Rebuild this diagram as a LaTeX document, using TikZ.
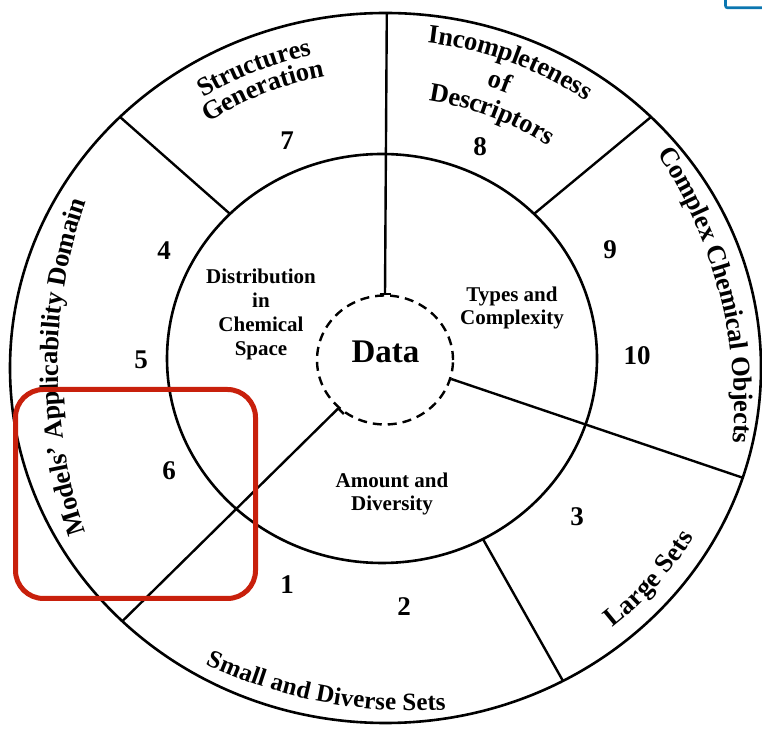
\documentclass[tikz,border=0pt]{standalone}
\usepackage{fontspec}
\setmainfont{Liberation Serif}
\usetikzlibrary{calc,shapes.geometric,decorations.text}
\definecolor{focusred}{RGB}{200,32,12}
\definecolor{markblue}{RGB}{10,118,176}
\newcommand\ringfont{\fontsize{26.5}{26.5}\selectfont\bfseries}
\newcommand\ringfontsmall{\fontsize{25}{25}\selectfont\bfseries}

\begin{document}
\begin{tikzpicture}[x=1pt,y=1pt,
  ring/.style={line width=2.6pt},
  divider/.style={line width=2.4pt},
  datacore/.style={ellipse, draw, dash pattern=on 9pt off 6pt, line width=2.4pt,
    minimum width=136pt, minimum height=129pt, inner sep=0pt},
  datatext/.style={font=\fontsize{33}{33}\selectfont\bfseries, inner sep=0pt, anchor=base},
  innerlbl/.style={font=\fontsize{21}{24}\selectfont\bfseries, align=center, inner sep=0pt, anchor=north},
  num/.style={font=\fontsize{27}{27}\selectfont\bfseries, inner sep=0pt},
  arclabel/.style={decorate, decoration={text along path, text align=center, raise=-7pt, text={|\ringfont|#1}}},
  arclabelsmall/.style={decorate, decoration={text along path, text align=center, raise=-7pt, text={|\ringfontsmall|#1}}},
  focusbox/.style={draw=focusred, line width=5pt, rounded corners=28pt, inner sep=0pt},
]
\useasboundingbox[fill=white] (0,0) rectangle (762,730);

% centres of the two rings
\coordinate (O) at (385.5,362);
\coordinate (I) at (382,371.5);

% rings
\draw[ring] (O) ellipse [x radius=375.5, y radius=355];
\draw[ring] (I) ellipse [x radius=215, y radius=204.5];

% core
\node[datacore] (data) at (385,370) {};
\node[datatext] (datalbl) at (385.5,367) {Data};

% end points on the rings
\coordinate (oTop) at ($(O)+(89.8:375.5 and 355)$);
\coordinate (oE)   at ($(O)+(-18:375.5 and 355)$);
\coordinate (oSW)  at ($(O)+(225.5:375.5 and 355)$);
\coordinate (iNW)  at ($(I)+(135:215 and 204.5)$);
\coordinate (oNW)  at ($(O)+(135:375.5 and 355)$);
\coordinate (iNE)  at ($(I)+(45:215 and 204.5)$);
\coordinate (oNE)  at ($(O)+(45:375.5 and 355)$);
\coordinate (iSE)  at ($(I)+(-62:215 and 204.5)$);
\coordinate (oSE)  at ($(O)+(-61.8:375.5 and 355)$);

% spokes from the core
\draw[divider] (data.90) -- (oTop);
\draw[divider] ($(data.90)+(-5.5,0)$) -- ($(data.90)+(5.5,0)$);
\draw[divider] (data.-16) -- (oE);
\draw[divider] (data.226) -- (oSW);
\draw[divider] (data.226) -- ++(-45:8);

% dividers of the outer ring
\draw[divider] (iNW) -- (oNW);
\draw[divider] (iNE) -- (oNE);
\draw[divider] (iSE) -- (oSE);

% inner sectors
\node[innerlbl] (dist) at (261,461.3) {Distribution\\in\\Chemical\\Space};
\node[innerlbl, font=\fontsize{21}{23}\selectfont\bfseries] (types) at (512,443.3) {Types and\\Complexity};
\node[innerlbl, font=\fontsize{21}{23}\selectfont\bfseries] (amount) at (392,257.3) {Amount and\\Diversity};

% outer ring labels
\path[arclabel=Structures]
  (O) ++(140.7:346.5 and 327.5) arc[start angle=140.7, end angle=84.7, x radius=346.5, y radius=327.5];
\path[arclabel=Generation]
  (O) ++(142.9:321.6 and 304) arc[start angle=142.9, end angle=82.9, x radius=321.6, y radius=304];
\path[arclabel=Incompleteness]
  (O) ++(98.7:353.9 and 334.5) arc[start angle=98.7, end angle=38.7, x radius=353.9, y radius=334.5];
\path[arclabel=of]
  (O) ++(84.2:322.5 and 304.8) arc[start angle=84.2, end angle=54.2, x radius=322.5, y radius=304.8];
\path[arclabel=Descriptors]
  (O) ++(98.2:293.1 and 277) arc[start angle=98.2, end angle=38.2, x radius=293.1, y radius=277];
\path[arclabel=Large Sets]
  (O) ++(-65:349.1 and 330) arc[start angle=-65, end angle=-15, x radius=349.1, y radius=330];
\path[arclabel=Models' Applicability Domain]
  (565.6,363) ++(204:514.6) arc[start angle=204, end angle=156, radius=514.6];
\path[arclabel=Complex Chemical Objects]
  (267.2,319.5) ++(38.7:474.3) arc[start angle=38.7, end angle=-9.3, radius=474.3];
\path[arclabelsmall=Small and Diverse Sets]
  (413.2,506.3) ++(237.3:480) arc[start angle=237.3, end angle=281.3, radius=480];

% sector numbers
\node[num] (n1) at (287,145) {1};
\node[num] (n2) at (404,123) {2};
\node[num] (n3) at (577,213) {3};
\node[num] (n4) at (164,479) {4};
\node[num] (n5) at (141,370) {5};
\node[num] (n6) at (169,259) {6};
\node[num] (n7) at (287,589) {7};
\node[num] (n8) at (480,583) {8};
\node[num] (n9) at (610,480) {9};
\node[num] (n10) at (637,374) {10};

% highlight frame
\node[focusbox, minimum width=240pt, minimum height=209pt] (focus) at (135.5,236) {};

% corner mark
\draw[markblue, line width=2.6pt, rounded corners=2pt] (725.5,731) -- (725.5,722.2) -- (763,722.2);
\end{tikzpicture}
\end{document}
